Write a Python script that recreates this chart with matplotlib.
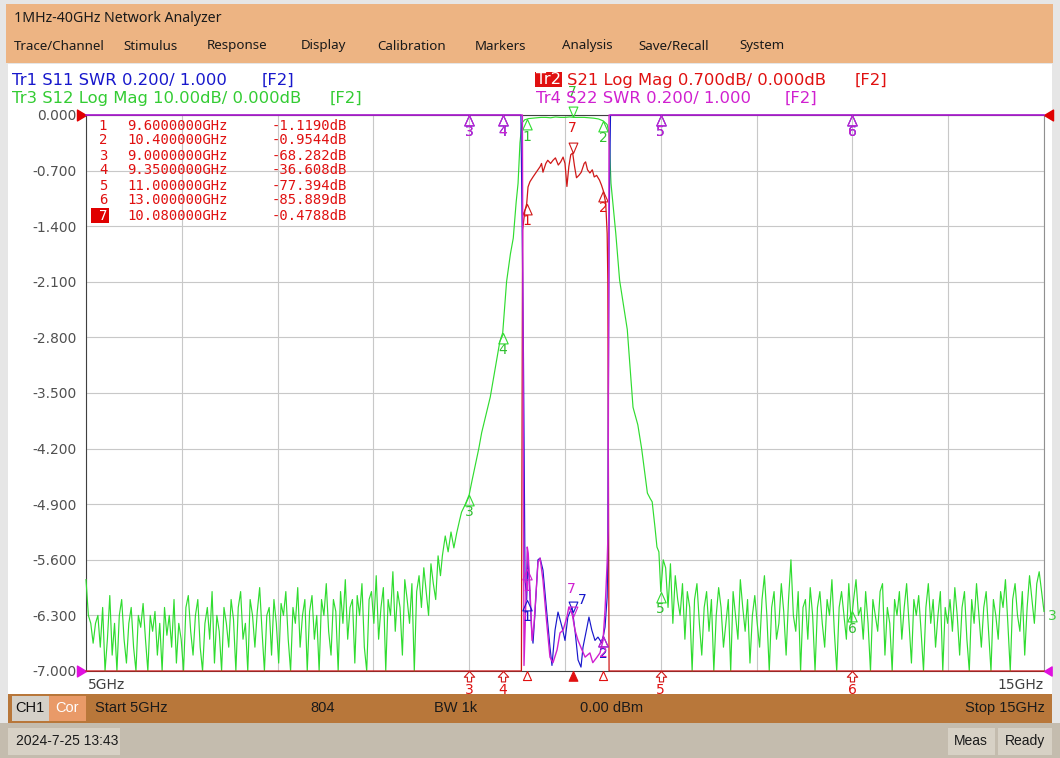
import numpy as np
import matplotlib
matplotlib.use('Agg')
import matplotlib.pyplot as plt
from matplotlib.patches import Rectangle
from matplotlib.path import Path

W, H = 1060, 758

# ---------------- data ----------------
start_ghz, stop_ghz = 5.0, 15.0
freq_grid_ticks = [5, 6, 7, 8, 9, 10, 11, 12, 13, 14, 15]
y_ticks_db = [0.0, -0.7, -1.4, -2.1, -2.8, -3.5, -4.2, -4.9, -5.6, -6.3, -7.0]

# Tr3 S12 (dB) noise floor below the passband, 5.0 .. 8.7 GHz
s12_low_noise_db = [
    -58.5, -63, -64, -66.5, -64, -63, -67, -62, -71, -66, -60.5, -68, -64, -73, -63, -61, -66, -69, -64, -62,
    -67, -72, -63, -64.5, -61.5, -66, -70, -63, -65, -62.5, -68, -64, -74, -62, -65.5, -63, -67, -61, -69, -64,
    -66, -71, -62, -60.5, -65, -68, -63, -61, -67, -72, -64, -62, -66, -60, -69, -63, -65, -71, -62, -64,
    -67, -61, -63.5, -70, -62, -60, -66, -64, -73, -61, -63, -67, -62.5, -59.5, -65, -71, -63, -62, -68, -61,
    -64, -69, -61.5, -63, -60, -66, -72, -62, -64, -59.5, -67, -63, -61, -70, -62.5, -60.5, -66, -63, -71, -61,
    -63, -59, -65, -68, -61, -62.5, -70, -60, -64, -58.5, -66, -62, -61, -69, -60.5, -63, -59, -67, -72, -61,
    -60, -64, -58, -66, -62, -59.5, -71, -61, -63, -57.5, -65, -60, -62, -68, -58.5, -61, -64, -59, -72, -60,
    -58, -62, -57, -60, -63, -56.5, -59, -61, -55.5, -58]
s12_low_start, s12_low_stop = 5.0, 8.7

# Tr3 S12 skirts and passband
s12_band_f = [8.72, 8.75, 8.78, 8.81, 8.84, 8.87, 8.90, 8.92, 8.96, 9.00, 9.03, 9.06, 9.10, 9.13, 9.17,
              9.22, 9.27, 9.32, 9.35, 9.39, 9.43, 9.46, 9.49, 9.51, 9.53, 9.55, 9.58, 9.62, 9.66, 9.70,
              9.75, 9.80, 9.85, 9.90, 9.95, 10.00, 10.05, 10.10, 10.15, 10.20, 10.25, 10.30, 10.35, 10.40,
              10.44, 10.46, 10.48, 10.53, 10.57, 10.65, 10.71, 10.76, 10.80, 10.86, 10.89, 10.91, 10.94,
              10.96, 10.98]
s12_band_db = [-55.5, -53, -55, -52.5, -54.5, -52.6, -51, -50, -49, -47.8, -46, -44.3, -42, -40, -38,
               -35.5, -32, -28.5, -27.4, -21, -17.5, -15.5, -11, -8.6, -3.5, -1.0, -0.6, -0.45, -0.4, -0.35,
               -0.3, -0.3, -0.35, -0.25, -0.3, -0.3, -0.25, -0.3, -0.3, -0.3, -0.35, -0.4, -0.5, -0.75,
               -1.2, -2.3, -8.6, -14.9, -20.8, -27, -36.8, -39, -42, -47.6, -48.3, -48.7, -52,
               -54.4, -55]

# Tr3 S12 (dB) noise floor above the passband, 11.0 .. 15.0 GHz
s12_high_noise_db = [
    -60, -56, -57, -62, -56.5, -64, -58, -61, -63, -59, -66, -60, -62, -71, -61, -59, -64, -68, -62, -60,
    -65, -61, -70, -63, -59.5, -62, -67, -64, -61, -72, -60, -63, -66, -58.5, -62, -65, -61, -69, -63, -60.5,
    -64, -67, -61, -58, -63, -71, -62, -60, -66, -64, -59, -62.5, -68, -61, -56, -63, -65, -60, -72, -62,
    -61, -66, -59.5, -63, -70, -62, -60, -64, -67, -61, -63, -58.5, -65, -71, -62, -60, -63, -66, -59, -64,
    -61, -58.5, -63, -62, -66, -60, -64, -71, -61, -63, -65, -60, -59, -68, -62, -64, -72, -61, -63, -60,
    -66, -62, -59, -64, -69, -61, -63, -60.5, -65, -70, -62, -59, -64, -61, -67, -63, -60, -72, -62, -64,
    -61, -65, -59.5, -63, -68, -62, -60, -66, -71, -61, -64, -59, -63, -67, -62, -60, -65, -70, -61, -63,
    -66, -60, -62, -58.5, -64, -71, -61, -59, -63, -65, -60, -68, -62, -58, -61, -64, -59, -57.5, -60, -62.5]
s12_high_start, s12_high_stop = 11.0, 15.0

# Tr2 S21 (dB)
s21_f = [5.0, 9.0, 9.35, 9.5, 9.545, 9.557, 9.582, 9.6, 9.614, 9.634, 9.666, 9.70, 9.74, 9.755, 9.77,
         9.80, 9.82, 9.85, 9.875, 9.90, 9.93, 9.955, 9.98, 10.0, 10.02, 10.04, 10.06, 10.08, 10.10, 10.12,
         10.145, 10.17, 10.20, 10.215, 10.235, 10.26, 10.285, 10.305, 10.33, 10.36, 10.38, 10.40, 10.425,
         10.44, 10.447, 10.46, 11.0, 13.0, 15.0]
s21_db = [-92, -68.282, -36.608, -14, -9, -1.45, -1.2, -1.119, -0.906, -0.84, -0.78, -0.72, -0.65, -0.61, -0.72,
          -0.61, -0.57, -0.61, -0.57, -0.54, -0.63, -0.59, -0.53, -0.61, -0.9, -0.65, -0.5, -0.4788, -0.65, -0.79,
          -0.76, -0.72, -0.61, -0.59, -0.69, -0.73, -0.69, -0.78, -0.76, -0.82, -0.88, -0.9544, -1.11,
          -1.49, -2.08, -12, -77.394, -85.889, -90]

# Tr1 S11 (SWR)
s11_f = [5.0, 9.54, 9.565, 9.583, 9.60, 9.614, 9.635, 9.652, 9.666, 9.687, 9.718, 9.74, 9.77, 9.81, 9.843,
         9.864, 9.896, 9.927, 9.969, 10.0, 10.03, 10.073, 10.104, 10.136, 10.167, 10.188, 10.23, 10.25,
         10.28, 10.313, 10.344, 10.386, 10.418, 10.44, 10.446, 10.46, 10.475, 15.0]
s11_swr = [25, 25, 2.2, 1.327, 1.255, 1.41, 1.266, 1.147, 1.10, 1.21, 1.40, 1.406, 1.363, 1.21, 1.086,
           1.02, 1.147, 1.212, 1.158, 1.11, 1.194, 1.23, 1.147, 1.04, 1.014, 1.086, 1.158, 1.194,
           1.147, 1.11, 1.122, 1.10, 1.158, 1.266, 1.39, 2.6, 25, 25]

# Tr4 S22 (SWR)
s22_f = [5.0, 9.555, 9.572, 9.586, 9.606, 9.616, 9.645, 9.656, 9.677, 9.718, 9.74, 9.77, 9.81, 9.843,
         9.875, 9.917, 9.948, 9.98, 10.02, 10.04, 10.073, 10.104, 10.136, 10.177, 10.21, 10.26, 10.29,
         10.334, 10.365, 10.397, 10.418, 10.44, 10.45, 10.46, 15.0]
s22_swr = [25, 25, 1.02, 1.18, 1.446, 1.424, 1.21, 1.11, 1.17, 1.39, 1.406, 1.327, 1.17, 1.05,
           1.03, 1.076, 1.137, 1.147, 1.194, 1.23, 1.21, 1.147, 1.11, 1.076, 1.05, 1.065, 1.03,
           1.05, 1.065, 1.11, 1.22, 1.39, 1.507, 25, 25]

marker_ids = ['1', '2', '3', '4', '5', '6', '7']
marker_f = [9.6, 10.4, 9.0, 9.35, 11.0, 13.0, 10.08]
marker_readout_db = [-1.1190, -0.9544, -68.282, -36.608, -77.394, -85.889, -0.4788]
active_marker = '7'

menu_items = ['Trace/Channel', 'Stimulus', 'Response', 'Display', 'Calibration', 'Markers',
              'Analysis', 'Save/Recall', 'System']
menu_x = [14, 123, 207, 301, 377, 475, 562, 638, 739]

# ---------------- helpers ----------------
GREEN = '#30DC30'
RED = '#D01818'
BLUE = '#1818CC'
MAGENTA = '#D020D0'
TXT_RED = '#E01010'

fig = plt.figure(figsize=(W / 100, H / 100), dpi=100)
fig.patch.set_facecolor('#E6E6E6')


def fx(x):
    return x / W


def fy(y):
    return 1 - y / H


def rect(x0, y0, x1, y1, color, z=-1):
    fig.patches.append(Rectangle((fx(x0), fy(y1)), (x1 - x0) / W, (y1 - y0) / H,
                                 transform=fig.transFigure, facecolor=color,
                                 edgecolor='none', zorder=z))


def ftext(x, y, s, color='#202020', size=10, family='DejaVu Sans', ha='left', z=10, **kw):
    fig.text(fx(x), fy(y), s, color=color, fontsize=size, family=family, ha=ha,
             va='center', zorder=z, **kw)


# frame pieces
rect(6, 4, 1053, 63, '#EDB483')
rect(8, 64, 1052, 694, 'white')
rect(8, 694, 1052, 723, '#B8773A', z=5)
rect(0, 723, 1060, 758, '#C4BCAE', z=5)

ftext(14, 18, '1MHz-40GHz Network Analyzer', size=10.2, family='Noto Sans', color='#1a1a1a')
for name, x in zip(menu_items, menu_x):
    ftext(x, 46, name, size=9.6, family='Noto Sans', color='#1a1a1a')

# trace headers
HS = 11.8
ftext(12, 80, 'Tr1 S11 SWR 0.200/ 1.000', color=BLUE, size=HS)
ftext(262, 80, '[F2]', color=BLUE, size=HS)
ftext(12, 98, 'Tr3 S12 Log Mag 10.00dB/ 0.000dB', color='#33CC33', size=HS)
ftext(330, 98, '[F2]', color='#33CC33', size=HS)
rect(535, 72, 562, 87, '#E01010', z=9)
ftext(536, 80, 'Tr2', color='white', size=HS)
ftext(567, 80, 'S21 Log Mag 0.700dB/ 0.000dB', color=TXT_RED, size=HS)
ftext(855, 80, '[F2]', color=TXT_RED, size=HS)
ftext(536, 98, 'Tr4 S22 SWR 0.200/ 1.000', color=MAGENTA, size=HS)
ftext(785, 98, '[F2]', color=MAGENTA, size=HS)

# ---------------- axes ----------------
px0, px1, py0, py1 = 86, 1044, 115, 671
rect_main = [fx(px0), fy(py1), (px1 - px0) / W, (py1 - py0) / H]
axg = fig.add_axes(rect_main)
ax = fig.add_axes(rect_main, sharex=axg)
axs = fig.add_axes(rect_main, sharex=axg)
axg.set_zorder(1)
ax.set_zorder(2)
axs.set_zorder(3)
for a in (ax, axs):
    a.patch.set_visible(False)
    for s in a.spines.values():
        s.set_visible(False)
axg.patch.set_facecolor('white')

axg.set_xlim(start_ghz, stop_ghz)
axg.set_ylim(-70, 0)
ax.set_ylim(y_ticks_db[-1], y_ticks_db[0])
axs.set_ylim(1.0, 3.0)

axg.set_xticks(freq_grid_ticks)
axg.set_yticks(np.linspace(-70, 0, 11))
axg.grid(True, color='#C8C8C8', lw=0.8)
axg.tick_params(length=0, labelbottom=False, labelleft=False)
for side, c in (('left', '#404040'), ('right', '#909090'), ('top', '#404040'), ('bottom', '#404040')):
    axg.spines[side].set_color(c)
    axg.spines[side].set_linewidth(0.8)

ax.set_yticks(y_ticks_db)
ax.set_yticklabels(['%.3f' % v for v in y_ticks_db])
ax.tick_params(axis='y', length=0, pad=7, labelsize=10, labelcolor='#505050')
ax.tick_params(axis='x', length=0, labelbottom=False)
axs.tick_params(length=0, labelbottom=False, labelleft=False)

# ---------------- traces ----------------
s12_f = np.concatenate([np.linspace(s12_low_start, s12_low_stop, len(s12_low_noise_db)),
                        s12_band_f,
                        np.linspace(s12_high_start, s12_high_stop, len(s12_high_noise_db))])
s12_db = np.concatenate([s12_low_noise_db, s12_band_db, s12_high_noise_db])

traces = [
    (axg, s12_f, np.array(s12_db), GREEN, '#30C030', 0.85, (0, 18)),
    (ax, np.array(s21_f), np.array(s21_db), RED, TXT_RED, 0.9, (0, 18)),
    (axs, np.array(s11_f), np.array(s11_swr), BLUE, BLUE, 0.85, (7, 9)),
    (axs, np.array(s22_f), np.array(s22_swr), MAGENTA, MAGENTA, 1.0, (-1, 20)),
]

tri_up = Path([(0, 0), (-0.45, -1), (0.45, -1), (0, 0)], closed=True)
tri_down = Path([(0, 0), (-0.42, 1), (0.42, 1), (0, 0)], closed=True)
arrow_up = Path([(0, 0), (-0.5, -0.55), (-0.2, -0.55), (-0.2, -1.0), (0.2, -1.0), (0.2, -0.55),
                 (0.5, -0.55), (0, 0)], closed=True)

for axx, f, v, col, lcol, lw, act_off in traces:
    lo, hi = axx.get_ylim()
    vc = np.clip(v, lo, hi)
    axx.plot(f, vc, color=col, lw=lw, clip_on=False, zorder=3)
    for mid, mf in zip(marker_ids, marker_f):
        mv = float(np.interp(mf, f, vc))
        if mid == active_marker:
            axx.plot([mf], [mv], marker=tri_down, ms=15, mfc='none', mec=col, mew=0.8,
                     clip_on=False, zorder=4)
            axx.annotate(mid, (mf, mv), xytext=act_off, textcoords='offset points',
                         ha='center', va='center', color=lcol, fontsize=10, zorder=5)
        else:
            at_bottom = mv <= lo + 1e-9
            axx.plot([mf], [mv], marker=arrow_up if at_bottom else tri_up, ms=15, mfc='none',
                     mec=col, mew=0.8, clip_on=False, zorder=4)
            axx.annotate(mid, (mf, mv), xytext=(0, -14 if at_bottom else -12.5),
                         textcoords='offset points',
                         ha='center', va='center', color=lcol, fontsize=10, zorder=5)

# stimulus indicators of the active trace (Tr2) on the bottom edge
for mid, mf in zip(marker_ids, marker_f):
    mv = float(np.interp(mf, s21_f, s21_db))
    if mv > y_ticks_db[-1]:
        filled = (mid == active_marker)
        ax.plot([mf], [y_ticks_db[-1]], marker=tri_up, ms=14 if filled else 13,
                mfc=TXT_RED if filled else 'white', mec=TXT_RED, mew=0.8,
                clip_on=False, zorder=4)

# reference level arrows on the edges
ref_right = Path([(0, 0), (-1, 0.6), (-1, -0.6), (0, 0)], closed=True)
ref_left = Path([(0, 0), (1, 0.6), (1, -0.6), (0, 0)], closed=True)
ax.plot([0], [1], marker=ref_right, ms=13, color='#E00000', transform=ax.transAxes, clip_on=False)
ax.plot([0], [0], marker=ref_right, ms=13, color='#E010E0', transform=ax.transAxes, clip_on=False)
ax.plot([1], [1], marker=ref_left, ms=13, color='#E00000', transform=ax.transAxes, clip_on=False)
ax.plot([1], [0], marker=ref_left, ms=11, color='#E010E0', transform=ax.transAxes, clip_on=False)
ftext(1048, 616, '3', color='#40CC40', size=10)

# x edge labels
ftext(88, 685, '%dGHz' % start_ghz, color='#404040', size=10, z=4)
ftext(1044, 685, '%dGHz' % stop_ghz, color='#404040', size=10, ha='right', z=4)

# marker table
row_y = [125.5, 140.5, 155.5, 170.5, 185.5, 200.5, 215.5]
for mid, mf, mdb, yy in zip(marker_ids, marker_f, marker_readout_db, row_y):
    fs = ('%.7fGHz' if mf < 10 else '%.6fGHz') % mf
    vs = ('%.4fdB' if abs(mdb) < 10 else '%.3fdB') % mdb
    if mid == active_marker:
        rect(91, yy - 7, 109, yy + 7, '#E00000', z=9)
        ftext(103, yy, mid, color='white', size=10, family='DejaVu Sans Mono', ha='center')
    else:
        ftext(103, yy, mid, color=TXT_RED, size=10, family='DejaVu Sans Mono', ha='center')
    ftext(127, yy, fs, color=TXT_RED, size=10, family='DejaVu Sans Mono')
    ftext(347, yy, vs, color=TXT_RED, size=10, family='DejaVu Sans Mono', ha='right')

# status bar
rect(12, 696, 49, 721, '#D4D0C8', z=6)
rect(49, 696, 86, 721, '#E99A68', z=6)
SB = ['Liberation Sans Narrow', 'Liberation Sans']
ftext(30, 708, 'CH1', color='#111111', size=10.5, family=SB, ha='center', z=7)
ftext(67, 708, 'Cor', color='white', size=10.5, family=SB, ha='center', z=7)
ftext(95, 708, 'Start %dGHz' % start_ghz, color='#1a1a1a', size=10.5, family=SB, z=7)
ftext(310, 708, '804', color='#1a1a1a', size=10.5, family=SB, z=7)
ftext(434, 708, 'BW 1k', color='#1a1a1a', size=10.5, family=SB, z=7)
ftext(580, 708, '0.00 dBm', color='#1a1a1a', size=10.5, family=SB, z=7)
ftext(1045, 708, 'Stop %dGHz' % stop_ghz, color='#1a1a1a', size=10.5, family=SB, ha='right', z=7)

rect(8, 728, 120, 755, '#D7D1C5', z=6)
rect(948, 728, 995, 755, '#D7D1C5', z=6)
rect(998, 728, 1052, 755, '#D7D1C5', z=6)
ftext(16, 741, '2024-7-25 13:43', color='#1a1a1a', size=10, family=SB, z=7)
ftext(971, 741, 'Meas', color='#1a1a1a', size=10, family=SB, ha='center', z=7)
ftext(1025, 741, 'Ready', color='#1a1a1a', size=10, family=SB, ha='center', z=7)

fig.savefig('out.png', dpi=100, facecolor=fig.get_facecolor())
